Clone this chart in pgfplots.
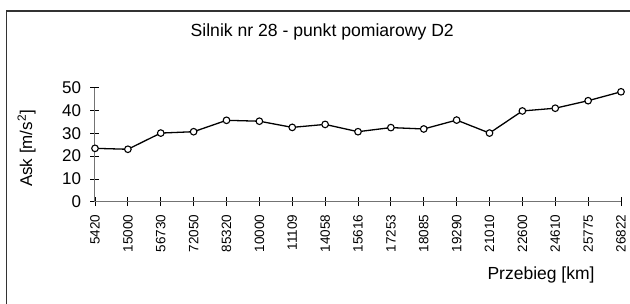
\documentclass[border=0pt]{standalone}
\usepackage{pgfplots}
\pgfplotsset{compat=1.18}
\usepackage{fontspec}
\setmainfont{Liberation Sans}
\begin{document}
\begin{tikzpicture}[x=1pt,y=1pt]
\useasboundingbox (0,0) rectangle (630,303);
\draw[line width=1.4pt,color=black!80] (6.3,-5) -- (6.3,292) -- (640,292);
\begin{axis}[
  at={(95pt,101.3pt)}, anchor=south west,
  scale only axis, width=526pt, height=114pt,
  xmin=0, xmax=16, ymin=0, ymax=50,
  axis x line*=bottom, axis y line*=left,
  axis line style={color=black!55, line width=1pt},
  xtick={0,...,16},
  xticklabels={5420,15000,56730,72050,85320,10000,11109,14058,15616,17253,18085,19290,21010,22600,24610,25775,26822},
  ytick={0,10,20,30,40,50},
  tick align=center,
  major tick length=9pt,
  tick style={color=black, line width=0.8pt},
  /pgf/number format/assume math mode=true,
  x tick label style={rotate=90, anchor=east, font=\fontsize{13.5}{15}\selectfont, xshift=-5pt},
  y tick label style={font=\fontsize{17}{19}\selectfont, xshift=-6pt},
  title={Silnik nr 28 - punkt pomiarowy D2},
  title style={at={(rel axis cs:0.432,1.515)}, anchor=center, font=\fontsize{17.6}{20}\selectfont, yshift=-9pt},
  xlabel={Przebieg [km]},
  xlabel style={at={(rel axis cs:0.848,-0.639)}, anchor=center, font=\fontsize{17.5}{20}\selectfont},
  ylabel={Ask [m/s\textsuperscript{2}]},
  ylabel style={at={(rel axis cs:-0.13,0.467)}, anchor=center, rotate=0, font=\fontsize{17}{19}\selectfont},
  clip=false,
]
\addplot[black, line width=1.3pt, mark=*, mark size=3.3pt, mark options={fill=white, draw=black, line width=1.1pt}]
coordinates {
(0,23.4)(1,23.0)(2,30.1)(3,30.7)(4,35.7)(5,35.3)(6,32.6)(7,33.9)(8,30.7)(9,32.5)(10,31.9)(11,35.8)(12,30.1)(13,39.8)(14,41.0)(15,44.3)(16,48.2)
};
\end{axis}
\end{tikzpicture}
\end{document}
